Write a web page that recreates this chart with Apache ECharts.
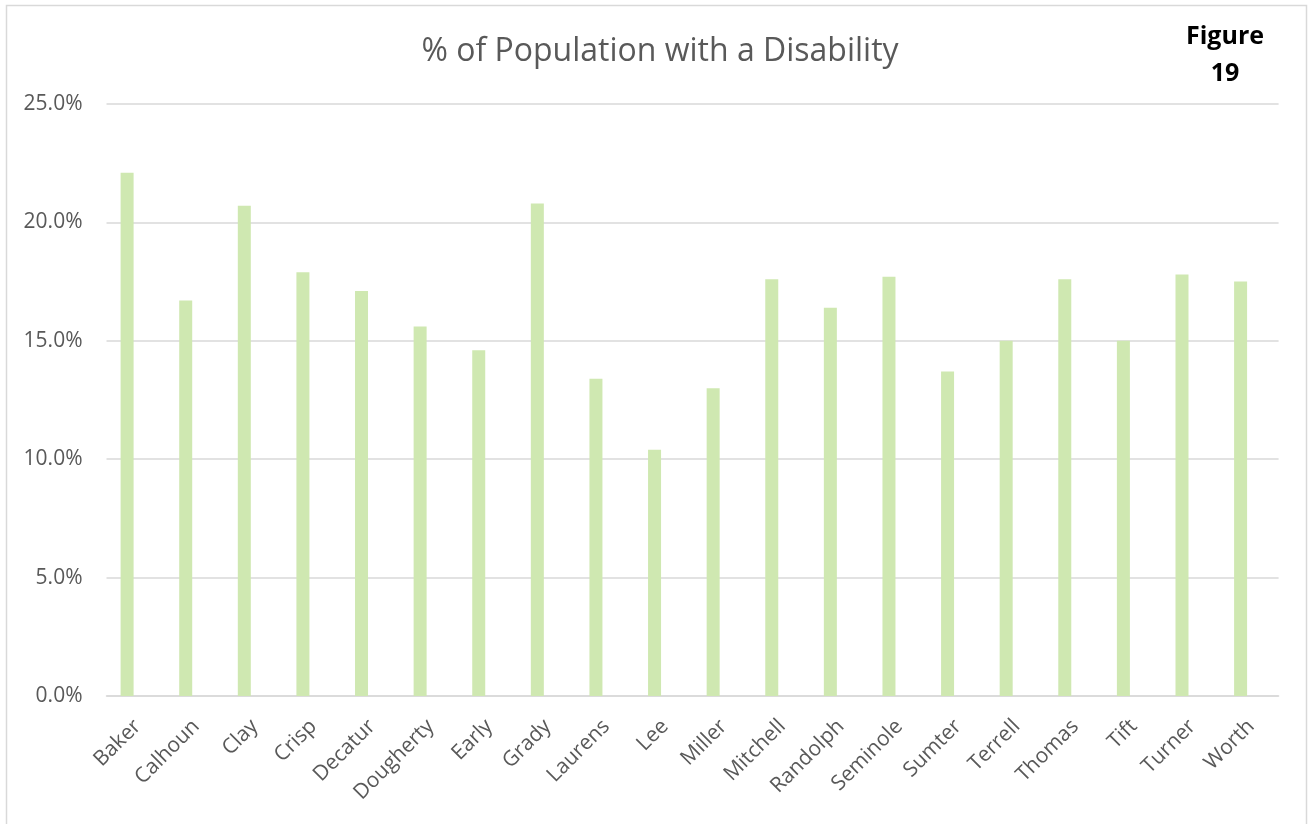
<!DOCTYPE html>
<html>
<head>
<meta charset="utf-8">
<script src="https://cdn.jsdelivr.net/npm/echarts@6/dist/echarts.min.js"></script>
<style>
  html, body { margin: 0; padding: 0; background: #ffffff; }
  #chart { width: 1308px; height: 824px; }
</style>
</head>
<body>
<div id="chart"></div>
<script>
// County names along the category axis
const counties = ['Baker', 'Calhoun', 'Clay', 'Crisp', 'Decatur', 'Dougherty', 'Early', 'Grady',
  'Laurens', 'Lee', 'Miller', 'Mitchell', 'Randolph', 'Seminole', 'Sumter', 'Terrell',
  'Thomas', 'Tift', 'Turner', 'Worth'];

// Share of residents with a disability, in percent
const disabilityPct = [22.1, 16.7, 20.7, 17.9, 17.1, 15.6, 14.6, 20.8, 13.4, 10.4,
  13.0, 17.6, 16.4, 17.7, 13.7, 15.0, 17.6, 15.0, 17.8, 17.5];

// Value axis ticks
const yTicks = [0, 5, 10, 15, 20, 25];

const chartTitle = '% of Population with a Disability';
const figureLabel = 'Figure\n19';

const textColor = '#595959';
const gridColor = '#D9D9D9';
const barColor = '#CFE8B1';
const font = 'Open Sans';

const chart = echarts.init(document.getElementById('chart'), null, { renderer: 'canvas' });

const yMin = yTicks[0];
const yMax = yTicks[yTicks.length - 1];
const yStep = yTicks[1] - yTicks[0];

chart.setOption({
  animation: false,
  backgroundColor: '#ffffff',
  title: [
    {
      text: chartTitle,
      left: 655, top: 31, textAlign: 'center',
      textStyle: { fontFamily: font, fontSize: 32, fontWeight: 'normal', color: textColor }
    },
    {
      text: figureLabel,
      left: 1220, top: 13, textAlign: 'center',
      textStyle: { fontFamily: font, fontSize: 25, fontWeight: 'bold', color: '#000000', lineHeight: 37, align: 'center' }
    }
  ],
  graphic: [
    {
      type: 'rect', silent: true, z: -1,
      shape: { x: 6.5, y: 5.5, width: 1300, height: 840 },
      style: { fill: 'none', stroke: gridColor, lineWidth: 1.5 }
    }
  ],
  grid: [
    // axes, labels and gridlines
    { left: 106.5, right: 29.4, top: 104, bottom: 128, containLabel: false },
    // bars, set slightly left of the category centres
    { left: 97.8, right: 38.1, top: 104, bottom: 128, containLabel: false }
  ],
  xAxis: [
    {
      type: 'category', gridIndex: 0, data: counties,
      axisLine: { show: true, lineStyle: { color: gridColor, width: 1.5 } },
      axisTick: { show: false },
      axisLabel: {
        interval: 0, rotate: 45, margin: 14,
        align: 'right', verticalAlign: 'top', padding: [0, 8, 0, 0],
        fontFamily: font, fontSize: 21, color: textColor
      }
    },
    {
      type: 'category', gridIndex: 1, data: counties,
      axisLine: { show: false }, axisTick: { show: false }, axisLabel: { show: false }
    }
  ],
  yAxis: [
    {
      type: 'value', gridIndex: 0, min: yMin, max: yMax, interval: yStep,
      axisLine: { show: false }, axisTick: { show: false },
      axisLabel: {
        margin: 24, fontFamily: font, fontSize: 21, color: textColor,
        formatter: v => v.toFixed(1) + '%'
      },
      splitLine: { show: true, lineStyle: { color: gridColor, width: 1.5 } }
    },
    {
      type: 'value', gridIndex: 1, min: yMin, max: yMax, interval: yStep,
      show: false, splitLine: { show: false }
    }
  ],
  series: [
    {
      type: 'bar', xAxisIndex: 1, yAxisIndex: 1,
      data: disabilityPct, barWidth: 13,
      itemStyle: { color: barColor }
    }
  ]
});
</script>
</body>
</html>
